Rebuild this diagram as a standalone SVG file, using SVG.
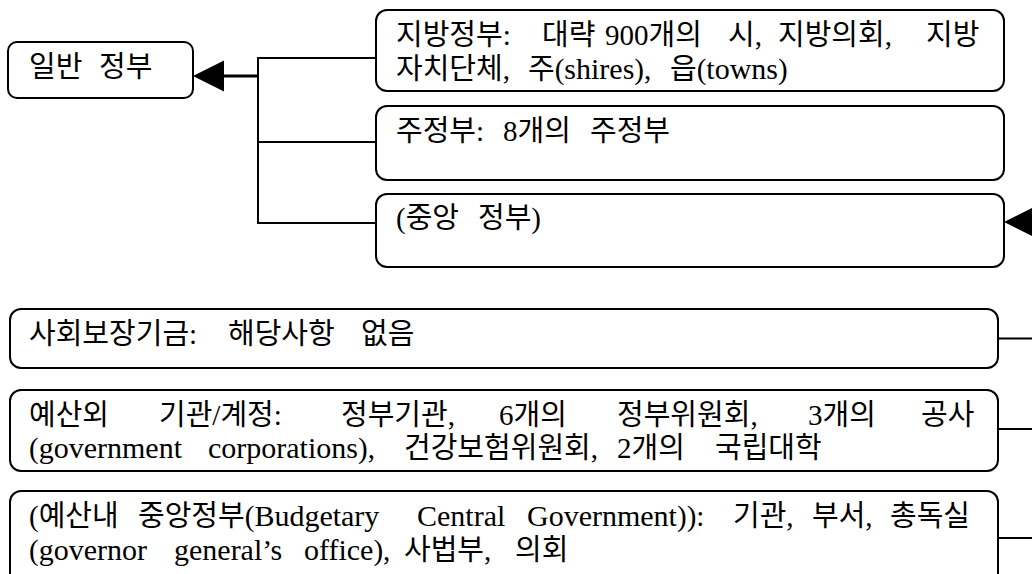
<svg xmlns="http://www.w3.org/2000/svg" width="1032" height="574" viewBox="0 0 1032 574">
<style>
.box{fill:#fff;stroke:#000;stroke-width:2}
.t{font-family:"Liberation Serif","Noto Sans CJK KR",serif;font-size:29px;fill:#000}
.L{font-size:30px}
.c{fill:none;stroke:#000;stroke-width:2}
.ct{fill:none;stroke:#000;stroke-width:3}
</style>
<defs>
<marker id="ah" markerUnits="userSpaceOnUse" markerWidth="32" markerHeight="32" viewBox="0 -16 32 32" refX="0" refY="0" orient="auto" overflow="visible">
<path d="M0,-15.5 L31,0 L0,15.5 Z" fill="#000"/>
</marker>
</defs>
<rect width="1032" height="574" fill="#fff"/>

<g id="connectors">
<path class="ct" d="M258,76 H224" marker-end="url(#ah)"/>
<path class="c" d="M376,58 H258 V223 H376 M258,142 H376"/>
<path class="c" d="M1070,222 H1035" marker-end="url(#ah)"/>
<path class="c" d="M998,338.5 H1040 M998,429 H1040 M998,538 H1040"/>
</g>

<g id="general-government">
<rect class="box" x="8" y="42" width="185" height="56" rx="9"/>
<text class="t" y="77"><tspan x="29">일반</tspan><tspan x="99">정부</tspan></text>
</g>

<g id="local-government">
<rect class="box" x="376" y="10" width="628" height="81" rx="11"/>
<text class="t" y="45"><tspan x="396">지방정부:</tspan><tspan x="542">대략</tspan><tspan x="605">900개의</tspan><tspan x="728">시,</tspan><tspan x="778">지방의회,</tspan><tspan x="926">지방</tspan></text>
<text class="t" y="79"><tspan x="396">자치단체,</tspan><tspan x="528">주(<tspan class="L">shires</tspan>),</tspan><tspan x="670">읍(<tspan class="L">towns</tspan>)</tspan></text>
</g>

<g id="state-government">
<rect class="box" x="376" y="106" width="628" height="74" rx="11"/>
<text class="t" y="141"><tspan x="396">주정부:</tspan><tspan x="503">8개의</tspan><tspan x="590">주정부</tspan></text>
</g>

<g id="central-government">
<rect class="box" x="376" y="194" width="628" height="73" rx="11"/>
<text class="t" y="228"><tspan x="396">(중앙</tspan><tspan x="478">정부)</tspan></text>
</g>

<g id="social-security">
<rect class="box" x="10" y="309" width="988" height="59" rx="11"/>
<text class="t" y="344"><tspan x="29">사회보장기금:</tspan><tspan x="228">해당사항</tspan><tspan x="361">없음</tspan></text>
</g>

<g id="extrabudgetary">
<rect class="box" x="10" y="390" width="988" height="81" rx="11"/>
<text class="t" y="425"><tspan x="29">예산외</tspan><tspan x="159">기관/계정:</tspan><tspan x="341">정부기관,</tspan><tspan x="499">6개의</tspan><tspan x="617">정부위원회,</tspan><tspan x="808">3개의</tspan><tspan x="921">공사</tspan></text>
<text class="t" y="458"><tspan x="29">(<tspan class="L">government</tspan></tspan><tspan x="208" class="L">corporations</tspan><tspan>),</tspan><tspan x="404">건강보험위원회,</tspan><tspan x="617">2개의</tspan><tspan x="715">국립대학</tspan></text>
</g>

<g id="budgetary-central">
<rect class="box" x="10" y="491" width="988" height="94" rx="11"/>
<text class="t" y="526"><tspan x="29">(예산내</tspan><tspan x="138">중앙정부(<tspan class="L">Budgetary</tspan></tspan><tspan x="417" class="L">Central</tspan><tspan x="527"><tspan class="L">Government</tspan>)):</tspan><tspan x="733">기관,</tspan><tspan x="812">부서,</tspan><tspan x="890">총독실</tspan></text>
<text class="t" y="560"><tspan x="29">(<tspan class="L">governor</tspan></tspan><tspan x="174" class="L">general’s</tspan><tspan x="304"><tspan class="L">office</tspan>),</tspan><tspan x="404">사법부,</tspan><tspan x="515">의회</tspan></text>
</g>
</svg>
